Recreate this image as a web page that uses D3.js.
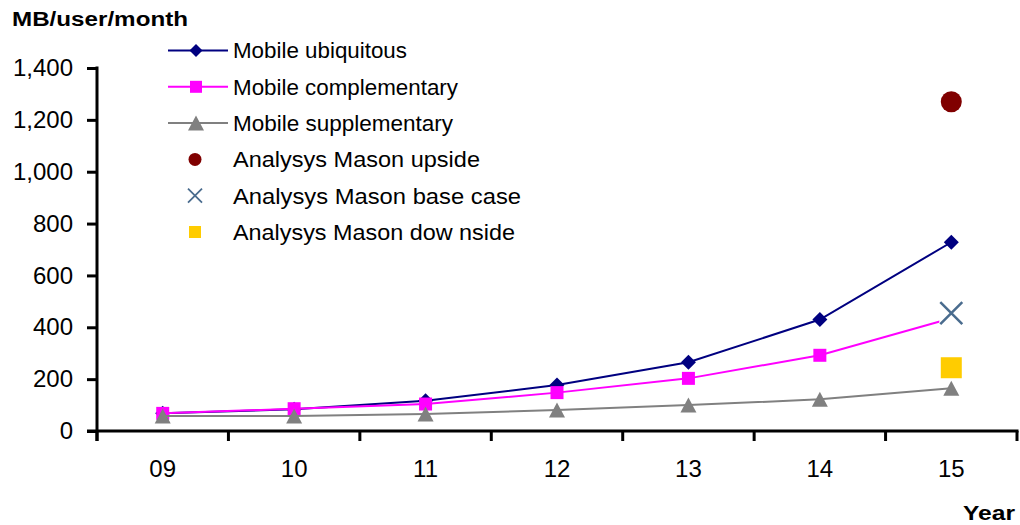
<!DOCTYPE html>
<html>
<head>
<meta charset="utf-8">
<script src="https://cdn.jsdelivr.net/npm/d3@7"></script>
<style>
  html, body { margin: 0; padding: 0; background: #fff; }
  svg { display: block; font-family: "Liberation Sans", Arial, sans-serif; }
</style>
</head>
<body>
<svg id="chart" width="1020" height="525"></svg>
<script>
// Mobile data usage forecast, MB per user per month
const years = ["09", "10", "11", "12", "13", "14", "15"];
const ubiquitous    = [68, 84, 117, 177, 265, 430, 728];
const complementary = [68, 86, 104, 148, 203, 292, 435];
const supplementary = [58, 58, 66, 81, 100, 122, 165];
const upside   = [{ year: "15", value: 1270 }];
const baseCase = [{ year: "15", value: 455 }];
const downside = [{ year: "15", value: 244 }];
const yTicks = [0, 200, 400, 600, 800, 1000, 1200, 1400];

const svg = d3.select("#chart");
const plotLeft = 97, plotRight = 1017, plotTop = 68, plotBottom = 431;

const x = d3.scaleBand().domain(years).range([plotLeft, plotRight]).padding(0);
const y = d3.scaleLinear().domain([0, 1400]).range([plotBottom, plotTop]);
const cx = d => x(d) + x.bandwidth() / 2;

// Y axis with comma-formatted ticks
const yAxis = svg.append("g")
  .attr("transform", `translate(${plotLeft},0)`)
  .call(d3.axisLeft(y).tickValues(yTicks).tickFormat(d3.format(",")).tickSize(10).tickPadding(14));
yAxis.select(".domain").remove();
yAxis.selectAll(".tick line").attr("stroke", "#000").attr("stroke-width", 3);
yAxis.selectAll(".tick text").attr("font-size", 24).attr("fill", "#000")
  .attr("font-family", "Liberation Sans, Arial, sans-serif");

// X axis: category labels centred, tick marks on band boundaries
const xAxis = svg.append("g")
  .attr("transform", `translate(0,${plotBottom})`)
  .call(d3.axisBottom(x).tickSize(0).tickPadding(29));
xAxis.select(".domain").remove();
xAxis.selectAll(".tick text").attr("font-size", 24).attr("fill", "#000")
  .attr("font-family", "Liberation Sans, Arial, sans-serif");

const bounds = years.map(d => x(d)).concat([x(years[years.length - 1]) + x.bandwidth()]);
svg.append("g").selectAll("line").data(bounds).join("line")
  .attr("x1", d => d).attr("x2", d => d)
  .attr("y1", plotBottom).attr("y2", plotBottom + 10)
  .attr("stroke", "#000").attr("stroke-width", 3);

// Axis lines
svg.append("line").attr("x1", plotLeft).attr("x2", plotLeft).attr("y1", y(1400) - 1.5).attr("y2", plotBottom + 10)
  .attr("stroke", "#000").attr("stroke-width", 3);
svg.append("line").attr("x1", plotLeft - 10).attr("x2", plotRight + 1.5).attr("y1", plotBottom).attr("y2", plotBottom)
  .attr("stroke", "#000").attr("stroke-width", 3);

// Marker shapes
const diamond = s => `M0,${-s}L${s},0L0,${s}L${-s},0Z`;
const square = s => `M${-s},${-s}H${s}V${s}H${-s}Z`;
const triangle = (w, h) => `M0,${-h}L${w},${h}L${-w},${h}Z`;

const series = [
  { name: "Mobile ubiquitous", values: ubiquitous, color: "#000080", marker: diamond(7.5), legendMarker: diamond(6.5) },
  { name: "Mobile complementary", values: complementary, color: "#FF00FF", marker: square(6.5), legendMarker: square(6) },
  { name: "Mobile supplementary", values: supplementary, color: "#808080", marker: triangle(8, 7.5), legendMarker: triangle(8, 7.5) }
];

const line = d3.line().x((d, i) => cx(years[i])).y(d => y(d));

series.forEach(s => {
  svg.append("path").datum(s.values)
    .attr("d", line).attr("fill", "none")
    .attr("stroke", s.color).attr("stroke-width", 2);
  svg.append("g").selectAll("path").data(s.values).join("path")
    .attr("transform", (d, i) => `translate(${cx(years[i])},${y(d)})`)
    .attr("d", s.marker).attr("fill", s.color);
});

// Scenario points
svg.append("g").selectAll("circle").data(upside).join("circle")
  .attr("cx", d => cx(d.year)).attr("cy", d => y(d.value)).attr("r", 10.5)
  .attr("fill", "#800000");

const baseG = svg.append("g").selectAll("g").data(baseCase).join("g")
  .attr("transform", d => `translate(${cx(d.year)},${y(d.value)})`);
baseG.append("rect").attr("x", -12).attr("y", -12).attr("width", 24).attr("height", 24).attr("fill", "#fff");
baseG.append("path").attr("d", "M-11,-11L11,11M-11,11L11,-11")
  .attr("stroke", "#4A6C8E").attr("stroke-width", 2.5).attr("fill", "none");

svg.append("g").selectAll("path").data(downside).join("path")
  .attr("transform", d => `translate(${cx(d.year)},${y(d.value)})`)
  .attr("d", square(10.5)).attr("fill", "#FFCC00");

// Legend
const legendItems = [
  { label: "Mobile ubiquitous", type: "line", s: series[0], w: 174 },
  { label: "Mobile complementary", type: "line", s: series[1], w: 225 },
  { label: "Mobile supplementary", type: "line", s: series[2], w: 220 },
  { label: "Analysys Mason upside", type: "circle", w: 247 },
  { label: "Analysys Mason base case", type: "x", w: 288 },
  { label: "Analysys Mason dow nside", type: "square", w: 282 }
];
const lg = svg.append("g");
legendItems.forEach((item, i) => {
  const ly = 50.5 + i * 36.3;
  const g = lg.append("g").attr("transform", `translate(0,${ly})`);
  if (item.type === "line") {
    g.append("line").attr("x1", 168).attr("x2", 228).attr("y1", 0).attr("y2", 0)
      .attr("stroke", item.s.color).attr("stroke-width", 2);
    g.append("path").attr("transform", "translate(196,0)").attr("d", item.s.legendMarker).attr("fill", item.s.color);
  } else if (item.type === "circle") {
    g.append("circle").attr("cx", 195).attr("cy", 0).attr("r", 6.5).attr("fill", "#800000");
  } else if (item.type === "x") {
    g.append("path").attr("transform", "translate(195,0)").attr("d", "M-7,-7L7,7M-7,7L7,-7")
      .attr("stroke", "#4A6C8E").attr("stroke-width", 1.8).attr("fill", "none");
  } else {
    g.append("path").attr("transform", "translate(195,0)").attr("d", square(6)).attr("fill", "#FFCC00");
  }
  g.append("text").attr("x", 233).attr("y", 0).attr("dy", "0.36em")
    .attr("font-size", 22).attr("fill", "#000")
    .attr("textLength", item.w).attr("lengthAdjust", "spacingAndGlyphs")
    .text(item.label);
});

// Axis titles
svg.append("text").attr("x", 12).attr("y", 26)
  .attr("font-size", 20).attr("font-weight", "bold").attr("fill", "#000")
  .attr("textLength", 176).attr("lengthAdjust", "spacingAndGlyphs")
  .text("MB/user/month");
svg.append("text").attr("x", 1015).attr("y", 520).attr("text-anchor", "end")
  .attr("font-size", 20).attr("font-weight", "bold").attr("fill", "#000")
  .attr("textLength", 52).attr("lengthAdjust", "spacingAndGlyphs")
  .text("Year");
</script>
</body>
</html>
